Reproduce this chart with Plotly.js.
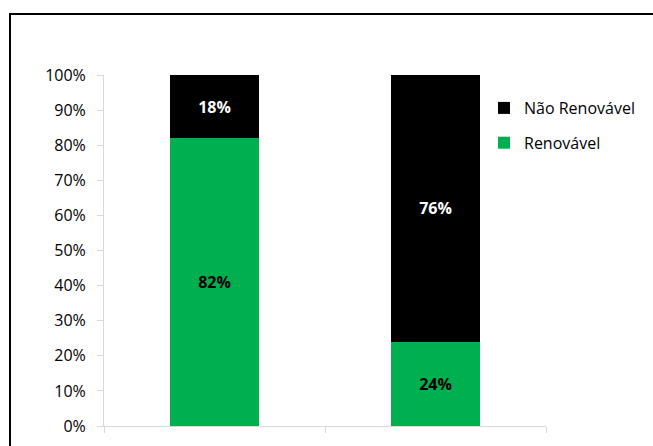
<!DOCTYPE html>
<html>
<head>
<meta charset="utf-8">
<script src="https://cdn.plot.ly/plotly-3.0.1.min.js"></script>
<style>
  html, body { margin: 0; padding: 0; background: #ffffff; }
  #chart { width: 653px; height: 446px; }
</style>
</head>
<body>
<div id="chart"></div>
<script>
// Data
const categories = ["Categoria 1", "Categoria 2"];
const renovavel = [0.82, 0.24];
const naoRenovavel = [0.18, 0.76];
const seriesNames = ["Renovável", "Não Renovável"];
const yTickValues = [0, 0.1, 0.2, 0.3, 0.4, 0.5, 0.6, 0.7, 0.8, 0.9, 1.0];

const FONT = "Open Sans, Lato, sans-serif";
const GREEN = "#00b050";
const BLACK = "#000000";
const AXIS = "#d9d9d9";

const traces = [
  {
    type: "bar",
    name: seriesNames[0],
    x: categories,
    y: renovavel,
    legendgroup: "g1",
    legendrank: 2,
    marker: { color: GREEN, line: { width: 0 } },
    text: renovavel.map(v => Math.round(v * 100) + "%"),
    textposition: "inside",
    insidetextanchor: "middle",
    textangle: 0,
    constraintext: "none",
    textfont: { family: FONT, size: 16, color: BLACK, weight: "bold" },
    hoverinfo: "none"
  },
  {
    type: "bar",
    name: seriesNames[1],
    x: categories,
    y: naoRenovavel,
    legendgroup: "g2",
    legendrank: 1,
    marker: { color: BLACK, line: { width: 0 } },
    text: naoRenovavel.map(v => Math.round(v * 100) + "%"),
    textposition: "inside",
    insidetextanchor: "middle",
    textangle: 0,
    constraintext: "none",
    textfont: { family: FONT, size: 16, color: "#ffffff", weight: "bold" },
    hoverinfo: "none"
  }
];

// plot area: x 104..546, y 75..426
const L = 104, R = 653 - 546, T = 75, B = 446 - 426;
const pw = 546 - 104, ph = 426 - 75;
const px2x = p => (p - L) / pw;
const py2y = p => (426 - p) / ph;

const layout = {
  width: 653,
  height: 446,
  margin: { l: L, r: R, t: T, b: B, pad: 0 },
  paper_bgcolor: "#ffffff",
  plot_bgcolor: "#ffffff",
  barmode: "stack",
  bargap: 0.6,
  font: { family: FONT, size: 16, color: "#000000" },
  showlegend: true,
  legend: {
    x: px2x(484),
    xanchor: "left",
    y: py2y(91),
    yanchor: "top",
    traceorder: "grouped",
    tracegroupgap: 11,
    font: { family: FONT, size: 16, color: "#000000" },
    bgcolor: "rgba(0,0,0,0)",
    borderwidth: 0
  },
  xaxis: {
    type: "category",
    showticklabels: false,
    showgrid: false,
    zeroline: false,
    showline: true,
    linecolor: AXIS,
    linewidth: 1,
    ticks: "outside",
    tickson: "boundaries",
    ticklen: 6,
    tickcolor: AXIS,
    fixedrange: true
  },
  yaxis: {
    range: [0, 1],
    tickvals: yTickValues,
    tickformat: ".0%",
    showgrid: false,
    zeroline: false,
    showline: true,
    linecolor: AXIS,
    linewidth: 1,
    ticks: "outside",
    ticklen: 6,
    tickcolor: AXIS,
    ticklabelstandoff: 8,
    tickfont: { family: FONT, size: 16, color: "#000000" },
    fixedrange: true
  },
  shapes: [
    {
      type: "rect",
      xref: "paper", yref: "paper",
      x0: px2x(10), x1: px2x(700),
      y0: py2y(500), y1: py2y(14),
      line: { color: "#000000", width: 2 },
      fillcolor: "rgba(0,0,0,0)",
      layer: "above"
    }
  ]
};

Plotly.newPlot("chart", traces, layout, { displayModeBar: false, staticPlot: true });
</script>
</body>
</html>
